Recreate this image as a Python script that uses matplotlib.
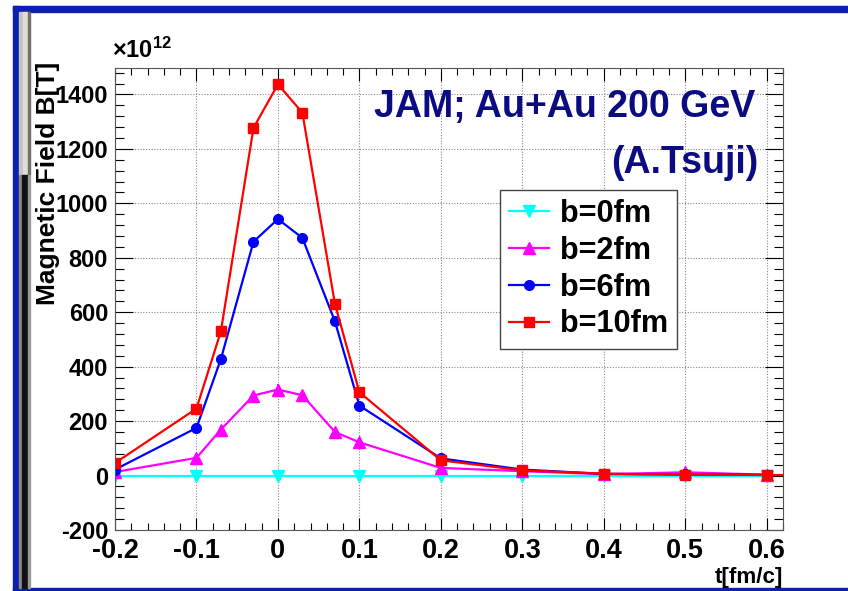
import matplotlib
matplotlib.use("Agg")
import matplotlib.pyplot as plt
from matplotlib import font_manager
from matplotlib.patches import Rectangle
from matplotlib.ticker import MultipleLocator


# fine time grid used for b = 2, 6, 10 fm
T_FINE = [-0.2, -0.1, -0.07, -0.03, 0.0, 0.03, 0.07, 0.1, 0.2, 0.3, 0.4, 0.5, 0.6]
# coarse time grid used for b = 0 fm
T_COARSE = [-0.2, -0.1, 0.0, 0.1, 0.2, 0.3, 0.4, 0.5, 0.6]
T_RED = T_FINE + [0.7]

B0 = [0, 0, 0, 0, 0, 0, 0, 0, 0]
B0_ERR = [12, 12, 12, 12, 12, 12, 12, 12, 12]
B2 = [13, 65, 169, 294, 316, 295, 160, 122, 28, 16, 5, 12, 3]
B2_ERR = [4, 6, 8, 10, 22, 10, 8, 6, 4, 3, 3, 6, 4]
B6 = [22, 175, 428, 859, 942, 873, 566, 257, 63, 22, 6, 4, 3]
B6_ERR = [4, 6, 8, 10, 16, 14, 8, 6, 4, 3, 3, 3, 3]
B10 = [46, 246, 530, 1277, 1437, 1333, 630, 306, 56, 19, 7, 3, 2, 1]
B10_ERR = [4, 6, 8, 10, 18, 14, 8, 6, 4, 3, 3, 3, 3, 3]

LABELS = ["b=0fm", "b=2fm", "b=6fm", "b=10fm"]
XTICKS = [-0.2, -0.1, 0.0, 0.1, 0.2, 0.3, 0.4, 0.5, 0.6]
XTICK_LABELS = ["-0.2", "-0.1", "0", "0.1", "0.2", "0.3", "0.4", "0.5", "0.6"]
YTICKS = [-200, 0, 200, 400, 600, 800, 1000, 1200, 1400]

W, H = 848, 591


def main() -> None:
    names = {f.name for f in font_manager.fontManager.ttflist}
    narrow = "Liberation Sans Narrow" in names
    tick_font = ["Liberation Sans Narrow", "Liberation Sans"] if narrow else ["Liberation Sans"]
    k = 1.0 if narrow else 0.85

    plt.rcParams["font.family"] = ["Liberation Sans", "DejaVu Sans"]
    plt.rcParams["font.weight"] = "bold"
    plt.rcParams["mathtext.fontset"] = "custom"
    plt.rcParams["mathtext.rm"] = "Liberation Sans"
    plt.rcParams["mathtext.bf"] = "Liberation Sans:bold"

    fig = plt.figure(figsize=(W / 100, H / 100), dpi=100)
    ax = fig.add_axes([115 / W, 1 - 530 / H, (783 - 115) / W, (530 - 68) / H])

    series = [
        (T_COARSE, B0, B0_ERR, "#00ffff", "v", 8),
        (T_FINE, B2, B2_ERR, "#ff00ff", "^", 8),
        (T_FINE, B6, B6_ERR, "#0000ff", "o", 7),
        (T_RED, B10, B10_ERR, "#ff0000", "s", 6.5),
    ]
    handles = []
    for t, b, err, color, marker, ms in series:
        cont = ax.errorbar(t, b, yerr=err, color=color, marker=marker, markersize=ms,
                           linewidth=1.6, elinewidth=1.4, capsize=0)
        handles.append(cont[0])

    ax.set_xlim(-0.2, 0.62)
    ax.set_ylim(-200, 1497)
    ax.xaxis.set_minor_locator(MultipleLocator(0.02))
    ax.yaxis.set_minor_locator(MultipleLocator(40))
    ax.grid(True, which="major", linestyle=(0, (1, 1.5)), color="#888888", linewidth=0.8)

    ax.tick_params(which="both", direction="in", top=True, right=True, color="black", width=0.8)
    ax.tick_params(axis="x", which="major", length=9, pad=6)
    ax.tick_params(axis="x", which="minor", length=5)
    ax.tick_params(axis="y", which="major", length=13, pad=5)
    ax.tick_params(axis="y", which="minor", length=6.5)
    for sp in ax.spines.values():
        sp.set_color("#555555")
        sp.set_linewidth(0.8)

    ax.set_xticks(XTICKS)
    ax.set_xticklabels(XTICK_LABELS, family=tick_font, fontsize=23 * k, fontweight="bold")
    ax.set_yticks(YTICKS)
    ax.set_yticklabels([str(v) for v in YTICKS], family=tick_font, fontsize=20 * k,
                       fontweight="bold")

    ax.set_xlabel("t[fm/c]", family=tick_font, fontsize=19 * k, fontweight="bold")
    ax.xaxis.set_label_coords(1.0, -0.08)
    ax.xaxis.label.set_horizontalalignment("right")
    ax.set_ylabel("Magnetic Field B[T]", fontsize=19, fontweight="bold")
    ax.yaxis.set_label_coords(-0.1, 1.013)
    ax.yaxis.label.set_verticalalignment("center")
    ax.yaxis.label.set_horizontalalignment("right")

    ax.text(-0.005, 1.012, r"$\times\mathbf{10^{12}}$", transform=ax.transAxes,
            fontsize=17, ha="left", va="bottom")

    ax.text(0.958, 0.9156, "JAM; Au+Au 200 GeV", transform=ax.transAxes,
            fontsize=27, color="#0b0b82", ha="right", va="center")
    ax.text(0.963, 0.794, "(A.Tsuji)", transform=ax.transAxes,
            fontsize=27, color="#0b0b82", ha="right", va="center")

    leg = ax.legend(handles, LABELS, loc="upper left", bbox_to_anchor=(0.576, 0.736),
                    borderaxespad=0,
                    prop={"family": tick_font, "size": 26 * k, "weight": "bold"},
                    frameon=True, fancybox=False, edgecolor="#444444", framealpha=1,
                    handlelength=1.3, handletextpad=0.35, labelspacing=0.22,
                    borderpad=0.3)
    leg.get_frame().set_linewidth(1.0)

    # screenshot frame around the slide
    def rect(x0, y0, x1, y1, color):
        fig.patches.append(Rectangle((x0 / W, 1 - y1 / H), (x1 - x0) / W, (y1 - y0) / H,
                                     transform=fig.transFigure, color=color, zorder=10))

    rect(13, 6, W, 12, "#0c1fae")
    rect(13, 6, 19, H, "#0c1fae")
    rect(13, 588, W, H, "#0c1fae")
    rect(19, 12, 23, 175, "#c4c4c4")
    rect(23, 12, 28, 175, "#e2ddd0")
    rect(28, 12, 30, 175, "#707070")
    rect(19, 175, 22, 588, "#8a8a8a")
    rect(22, 175, 28, 588, "#111111")
    rect(28, 175, 30, 588, "#9a9a9a")

    fig.savefig("out.png", dpi=100)


if __name__ == "__main__":
    main()
